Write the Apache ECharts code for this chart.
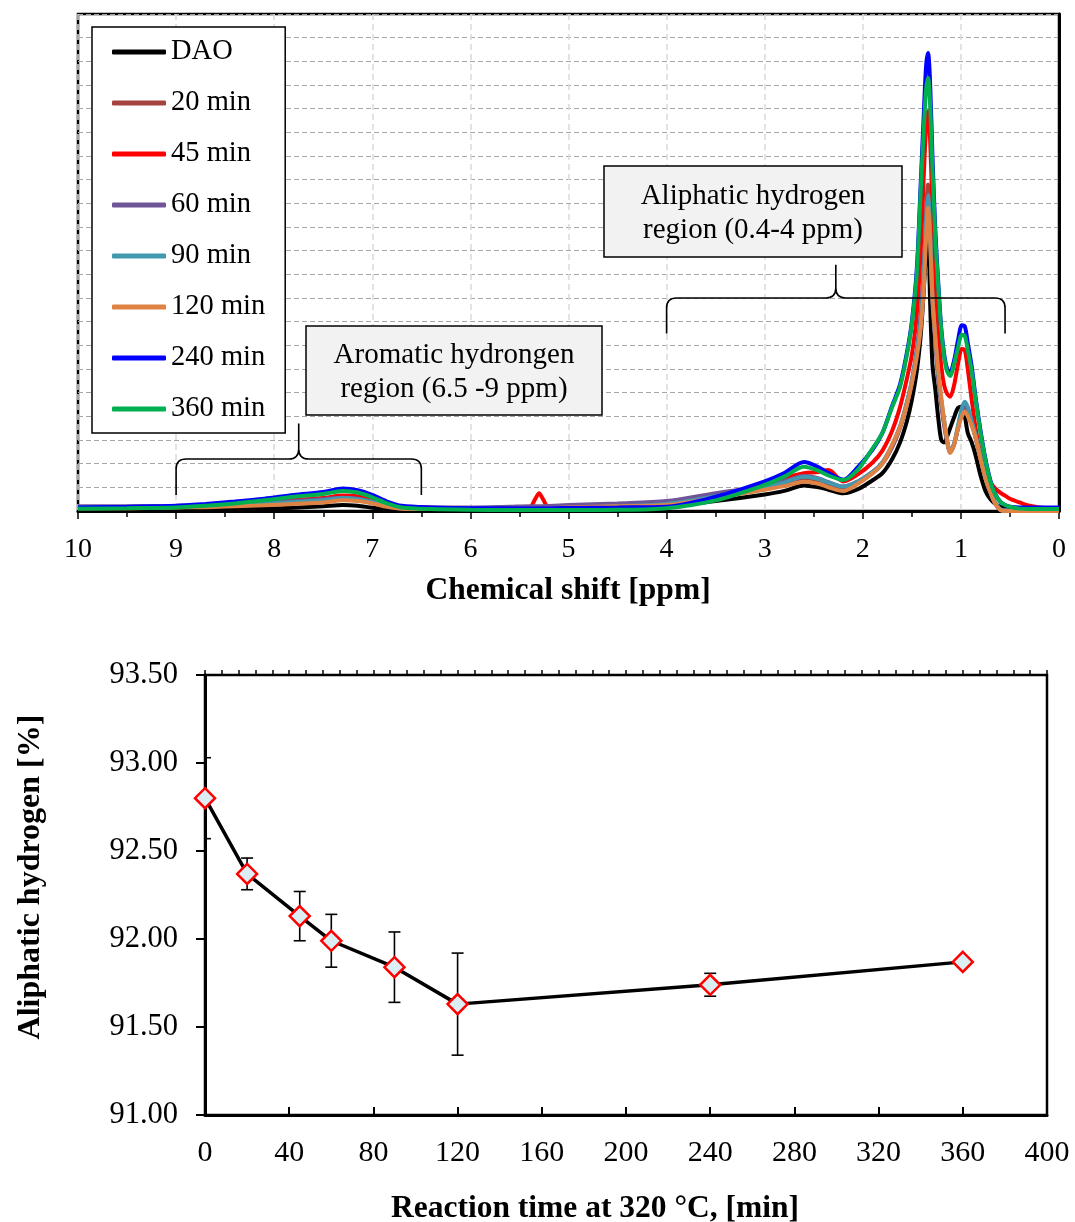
<!DOCTYPE html>
<html><head><meta charset="utf-8">
<script src="https://cdn.jsdelivr.net/npm/echarts@6/dist/echarts.min.js"></script>
<style>html,body{margin:0;padding:0;background:#fff}#c{width:1075px;height:1222px}</style>
</head><body><div id="c"></div>
<script>
// ---------- Data: 1H NMR spectra (chemical shift in ppm, intensity in gridline units) ----------
const ppm = [10, 9.5, 9.0, 8.7, 8.4, 8.1, 7.8, 7.5, 7.3, 7.15,
  7.0, 6.85, 6.7, 6.4, 6.0, 5.6, 5.4, 5.34, 5.3, 5.26,
  5.2, 5.0, 4.5, 4.0, 3.5, 3.0, 2.8, 2.6, 2.45, 2.35,
  2.2, 2.05, 1.9, 1.8, 1.7, 1.62, 1.55, 1.5, 1.45, 1.41,
  1.38, 1.355, 1.335, 1.315, 1.29, 1.26, 1.23, 1.2, 1.17, 1.14,
  1.11, 1.07, 1.03, 0.99, 0.96, 0.93, 0.89, 0.85, 0.8, 0.75,
  0.7, 0.65, 0.6, 0.55, 0.5, 0.4, 0.3, 0.2, 0.1, 0];

const dao = [0.1, 0.1, 0.1, 0.08, 0.08, 0.1, 0.14, 0.2, 0.25, 0.22,
  0.14, 0.08, 0.05, 0.06, 0.08, 0.1, 0.1, 0.1, 0.1, 0.1,
  0.1, 0.12, 0.15, 0.2, 0.42, 0.7, 0.85, 1.08, 1.0, 0.9,
  0.75, 0.92, 1.3, 1.6, 2.2, 2.9, 3.8, 4.7, 5.9, 7.4,
  9.2, 11.0, 12.0, 9.0, 6.2, 5.1, 3.9, 3.0, 2.9, 3.15,
  3.5, 3.95, 4.35, 4.4, 4.0, 3.3, 2.9, 2.35, 1.5, 0.85,
  0.5, 0.3, 0.18, 0.12, 0.1, 0.08, 0.08, 0.08, 0.08, 0.08];

const min20 = [0.15, 0.15, 0.18, 0.2, 0.24, 0.3, 0.36, 0.42, 0.5, 0.46,
  0.35, 0.2, 0.12, 0.1, 0.1, 0.12, 0.14, 0.14, 0.14, 0.14,
  0.14, 0.16, 0.22, 0.3, 0.6, 0.95, 1.15, 1.38, 1.3, 1.15,
  0.98, 1.2, 1.6, 2.0, 2.7, 3.5, 4.5, 5.4, 6.7, 8.2,
  10.2, 12.6, 13.8, 12.5, 9.2, 7.2, 5.6, 4.5, 3.6, 2.9,
  2.5, 2.8, 3.5, 4.15, 4.4, 4.2, 3.7, 3.1, 2.2, 1.45,
  0.8, 0.32, 0.06, 0.02, 0.02, 0.02, 0.02, 0.02, 0.02, 0.02];

const min45 = [0.15, 0.15, 0.18, 0.22, 0.28, 0.36, 0.46, 0.55, 0.65, 0.62,
  0.48, 0.28, 0.17, 0.14, 0.12, 0.12, 0.14, 0.5, 0.75, 0.5,
  0.14, 0.12, 0.15, 0.25, 0.55, 1.15, 1.4, 1.6, 1.65, 1.73,
  1.25, 1.55, 2.05, 2.55, 3.4, 4.4, 5.6, 6.6, 8.3, 11.0,
  14.0, 16.2, 16.9, 15.8, 12.8, 9.6, 7.5, 6.1, 5.3, 4.95,
  4.83, 5.3, 6.2, 6.85, 6.8, 6.0, 4.7, 3.5, 2.4, 1.65,
  1.2, 0.95, 0.78, 0.65, 0.52, 0.36, 0.22, 0.15, 0.12, 0.12];

const min60 = [0.2, 0.2, 0.22, 0.25, 0.3, 0.35, 0.42, 0.5, 0.56, 0.52,
  0.4, 0.25, 0.18, 0.15, 0.15, 0.18, 0.2, 0.2, 0.2, 0.2,
  0.21, 0.25, 0.32, 0.42, 0.75, 1.05, 1.25, 1.48, 1.38, 1.22,
  1.03, 1.25, 1.65, 2.05, 2.75, 3.55, 4.6, 5.5, 6.8, 8.2,
  10.0, 12.0, 13.0, 11.8, 8.8, 7.1, 5.6, 4.6, 3.7, 2.95,
  2.5, 2.8, 3.5, 4.2, 4.5, 4.3, 3.75, 3.1, 2.25, 1.45,
  0.8, 0.32, 0.06, 0.02, 0.02, 0.02, 0.02, 0.02, 0.02, 0.02];

const min90 = [0.15, 0.15, 0.18, 0.2, 0.25, 0.3, 0.38, 0.45, 0.55, 0.5,
  0.38, 0.22, 0.12, 0.1, 0.1, 0.1, 0.11, 0.11, 0.11, 0.11,
  0.11, 0.12, 0.2, 0.3, 0.62, 1.0, 1.2, 1.45, 1.35, 1.2,
  1.03, 1.25, 1.65, 2.05, 2.8, 3.6, 4.6, 5.5, 6.7, 8.0,
  9.8, 12.3, 13.35, 12.0, 9.1, 7.3, 5.8, 4.7, 3.8, 3.0,
  2.5, 2.85, 3.6, 4.35, 4.62, 4.4, 3.8, 3.2, 2.3, 1.5,
  0.85, 0.35, 0.08, 0.02, 0.02, 0.02, 0.02, 0.02, 0.02, 0.02];

const min120 = [0.12, 0.12, 0.15, 0.16, 0.2, 0.24, 0.3, 0.36, 0.45, 0.42,
  0.32, 0.18, 0.1, 0.08, 0.08, 0.1, 0.12, 0.12, 0.12, 0.12,
  0.12, 0.15, 0.2, 0.25, 0.55, 0.9, 1.05, 1.24, 1.15, 1.0,
  0.84, 1.15, 1.6, 2.0, 2.8, 3.55, 4.5, 5.4, 6.5, 7.7,
  9.3, 11.5, 12.8, 11.5, 9.0, 7.3, 5.9, 4.8, 3.8, 3.0,
  2.45, 2.8, 3.5, 4.0, 4.2, 4.0, 3.6, 3.1, 2.2, 1.4,
  0.8, 0.3, 0.05, 0.0, 0.0, 0.0, 0.0, 0.0, 0.0, 0.0];

const min240 = [0.15, 0.18, 0.22, 0.3, 0.4, 0.52, 0.68, 0.8, 0.95, 0.88,
  0.68, 0.4, 0.22, 0.15, 0.12, 0.12, 0.12, 0.12, 0.12, 0.12,
  0.12, 0.13, 0.15, 0.18, 0.6, 1.25, 1.6, 2.07, 1.85, 1.6,
  1.32, 1.85, 2.6, 3.3, 4.45, 5.35, 6.7, 8.0, 10.2, 13.8,
  16.6, 18.8, 19.35, 18.2, 15.0, 11.8, 9.6, 7.7, 6.6, 6.0,
  5.85, 6.35, 7.2, 7.85, 7.8, 7.1, 6.1, 4.8, 3.4, 2.2,
  1.3, 0.72, 0.4, 0.25, 0.18, 0.15, 0.15, 0.15, 0.15, 0.15];

const min360 = [0.1, 0.12, 0.15, 0.22, 0.32, 0.45, 0.6, 0.72, 0.85, 0.78,
  0.58, 0.32, 0.15, 0.08, 0.05, 0.04, 0.04, 0.04, 0.04, 0.04,
  0.04, 0.04, 0.05, 0.12, 0.45, 1.1, 1.45, 1.87, 1.7, 1.5,
  1.31, 1.75, 2.65, 3.3, 4.4, 5.25, 6.6, 7.9, 10.0, 13.5,
  16.0, 17.8, 18.3, 17.3, 14.5, 11.5, 9.4, 7.6, 6.5, 5.9,
  5.7, 6.2, 6.9, 7.45, 7.4, 6.8, 5.9, 4.7, 3.3, 2.15,
  1.25, 0.7, 0.4, 0.25, 0.18, 0.1, 0.08, 0.08, 0.08, 0.08];

const seriesNames = ['DAO', '20 min', '45 min', '60 min', '90 min', '120 min', '240 min', '360 min'];
const spectra = [dao, min20, min45, min60, min90, min120, min240, min360];
const seriesColors = ['#000000', '#A5443F', '#FF0000', '#6F5597', '#4198AF', '#DE8344', '#0000FF', '#00B050'];

// Region braces: [from ppm, to ppm, brace level, tip level, foot level]
const regionBraces = [[4.0, 0.55, 9.0, 10.4, 7.5], [9.0, 6.5, 2.2, 3.7, 0.68]];
const regionLabels = ['Aliphatic hydrogen\nregion (0.4-4 ppm)', 'Aromatic hydrongen\nregion (6.5 -9 ppm)'];

// ---------- Data: aliphatic hydrogen vs reaction time ----------
const times = [0, 20, 45, 60, 90, 120, 240, 360];
const aliphatic = [92.80, 92.37, 92.13, 91.99, 91.84, 91.63, 91.74, 91.87];
const aliphaticErr = [0.23, 0.09, 0.14, 0.15, 0.20, 0.29, 0.065, 0];

// ---------- Chart ----------
const FONT = '"Liberation Serif", "Times New Roman", serif';
const chart = echarts.init(document.getElementById('c'), null, {renderer: 'canvas'});

const spectrumSeries = spectra.map((vals, k) => ({
  name: seriesNames[k],
  type: 'line',
  xAxisIndex: 0, yAxisIndex: 0,
  data: ppm.map((p, i) => [p, vals[i]]),
  showSymbol: false, symbol: 'none',
  smooth: 0.3,
  lineStyle: {color: seriesColors[k], width: 4},
  itemStyle: {color: seriesColors[k]},
  color: seriesColors[k],
  z: 3 + k,
  animation: false
}));

const braceSeries = {
  type: 'custom',
  xAxisIndex: 0, yAxisIndex: 0,
  silent: true,
  z: 20,
  encode: {x: [0, 1], y: [2, 3, 4]},
  data: regionBraces,
  renderItem: function (params, api) {
    const f = api.value(0), t = api.value(1);
    const a = api.coord([f, api.value(2)]);
    const b = api.coord([t, api.value(2)]);
    const tip = api.coord([(f + t) / 2, api.value(3)]);
    const foot = api.coord([f, api.value(4)])[1];
    const xl = Math.min(a[0], b[0]), xr = Math.max(a[0], b[0]);
    const yl = a[1], xc = tip[0], yt = tip[1], r = 10;
    const d = `M${xl},${foot} L${xl},${yl + r} Q${xl},${yl} ${xl + r},${yl} L${xc - r},${yl} Q${xc},${yl} ${xc},${yl - r} L${xc},${yt} M${xc},${yl - r} Q${xc},${yl} ${xc + r},${yl} L${xr - r},${yl} Q${xr},${yl} ${xr},${yl + r} L${xr},${foot}`;
    return {type: 'path', shape: {pathData: d}, style: {stroke: '#000', fill: null, lineWidth: 1.6}};
  }
};

const errorSeries = {
  type: 'custom',
  xAxisIndex: 1, yAxisIndex: 1,
  silent: true,
  clip: true,
  z: 4,
  encode: {x: 0, y: [1, 2]},
  data: times.map((t, i) => [t, aliphatic[i] - aliphaticErr[i], aliphatic[i] + aliphaticErr[i]]),
  renderItem: function (params, api) {
    const lo = api.coord([api.value(0), api.value(1)]);
    const hi = api.coord([api.value(0), api.value(2)]);
    const w = 6;
    const st = {stroke: '#000', lineWidth: 1.6};
    return {type: 'group', children: [
      {type: 'line', shape: {x1: lo[0], y1: lo[1], x2: hi[0], y2: hi[1]}, style: st},
      {type: 'line', shape: {x1: lo[0] - w, y1: lo[1], x2: lo[0] + w, y2: lo[1]}, style: st},
      {type: 'line', shape: {x1: hi[0] - w, y1: hi[1], x2: hi[0] + w, y2: hi[1]}, style: st}
    ]};
  }
};

const mainSeries = {
  type: 'line',
  xAxisIndex: 1, yAxisIndex: 1,
  data: times.map((t, i) => [t, aliphatic[i]]),
  symbol: 'diamond', symbolSize: 20,
  showSymbol: true,
  lineStyle: {color: '#000', width: 3.5},
  itemStyle: {color: '#DAEEF3', borderColor: '#FF0000', borderWidth: 2.5},
  z: 10,
  animation: false
};

function labelBox(x, y, w, h, text) {
  return {type: 'group', z: 30, children: [
    {type: 'rect', shape: {x: x, y: y, width: w, height: h}, style: {fill: '#F2F2F2', stroke: '#000', lineWidth: 1.5}, z: 30},
    {type: 'text', x: x + w / 2, y: y + h / 2 + 2, z: 31,
     style: {text: text, font: '29px ' + FONT, lineHeight: 34, fill: '#000', align: 'center', verticalAlign: 'middle'}}
  ]};
}

const option = {
  animation: false,
  backgroundColor: '#fff',
  textStyle: {fontFamily: FONT},
  grid: [
    {left: 78, top: 14, width: 981, height: 497, show: true, borderColor: '#000', borderWidth: 2.5, backgroundColor: 'transparent'},
    {left: 205, top: 675, width: 842, height: 440, show: true, borderColor: '#000', borderWidth: 2.5, backgroundColor: 'transparent'}
  ],
  legend: {
    data: seriesNames,
    orient: 'vertical',
    left: 92, top: 27,
    padding: [10, 20, 9, 20],
    itemGap: 21,
    icon: 'roundRect',
    itemWidth: 54, itemHeight: 5,
    backgroundColor: '#fff',
    borderColor: '#000', borderWidth: 1.5,
    textStyle: {fontFamily: FONT, fontSize: 28.5, color: '#000', lineHeight: 30},
    z: 40
  },
  xAxis: [
    {
      gridIndex: 0, type: 'value', min: 0, max: 10, interval: 1, inverse: true,
      axisLine: {show: true, onZero: false, lineStyle: {color: '#000', width: 3}},
      axisTick: {show: true, inside: false, length: 8, lineStyle: {color: '#000', width: 1.5}},
      minorTick: {show: true, splitNumber: 2, length: 6, lineStyle: {color: '#000', width: 1.5}},
      axisLabel: {show: true, margin: 25, fontFamily: FONT, fontSize: 28, color: '#000'},
      splitLine: {show: true, lineStyle: {color: '#D9D9D9', width: 1.5, type: [6, 4]}}
    },
    {
      gridIndex: 1, type: 'value', min: 0, max: 400, interval: 40,
      axisLine: {show: true, onZero: false, lineStyle: {color: '#000', width: 3}},
      axisTick: {show: true, inside: true, length: 8, lineStyle: {color: '#000', width: 2}},
      axisLabel: {show: true, margin: 23, fontFamily: FONT, fontSize: 30, color: '#000'},
      splitLine: {show: false}
    },
    {
      gridIndex: 1, type: 'value', min: 0, max: 400, interval: 8,
      axisLine: {show: false},
      axisTick: {show: true, inside: false, length: 5, lineStyle: {color: '#000', width: 1.5}},
      axisLabel: {show: false},
      splitLine: {show: false}
    }
  ],
  yAxis: [
    {
      gridIndex: 0, type: 'value', min: 0, max: 21, interval: 1,
      axisLine: {show: true, lineStyle: {color: '#000', width: 3}},
      axisTick: {show: false},
      axisLabel: {show: false},
      splitLine: {show: true, lineStyle: {color: '#A6A6A6', width: 1.2, type: [5, 3]}}
    },
    {
      gridIndex: 1, type: 'value', min: 91, max: 93.5, interval: 0.5,
      axisLine: {show: true, lineStyle: {color: '#000', width: 3}},
      axisTick: {show: true, inside: false, length: 9, lineStyle: {color: '#000', width: 2}},
      axisLabel: {show: true, margin: 27, fontFamily: FONT, fontSize: 30.5, color: '#000', formatter: v => v.toFixed(2)},
      splitLine: {show: false}
    }
  ],
  series: spectrumSeries.concat([braceSeries, errorSeries, mainSeries]),
  graphic: [
    labelBox(604, 166, 298, 91, regionLabels[0]),
    labelBox(306, 326, 296, 89, regionLabels[1]),
    {type: 'text', x: 568, y: 591, z: 30, style: {text: 'Chemical shift [ppm]', font: 'bold 31.5px ' + FONT, fill: '#000', align: 'center', verticalAlign: 'middle'}},
    {type: 'text', x: 31, y: 877, rotation: Math.PI / 2, z: 30, style: {text: 'Aliphatic hydrogen [%]', font: 'bold 32px ' + FONT, fill: '#000', align: 'center', verticalAlign: 'middle'}},
    {type: 'text', x: 595, y: 1209, z: 30, style: {text: 'Reaction time at 320 °C, [min]', font: 'bold 31.5px ' + FONT, fill: '#000', align: 'center', verticalAlign: 'middle'}}
  ]
};
chart.setOption(option);
</script>
</body></html>
